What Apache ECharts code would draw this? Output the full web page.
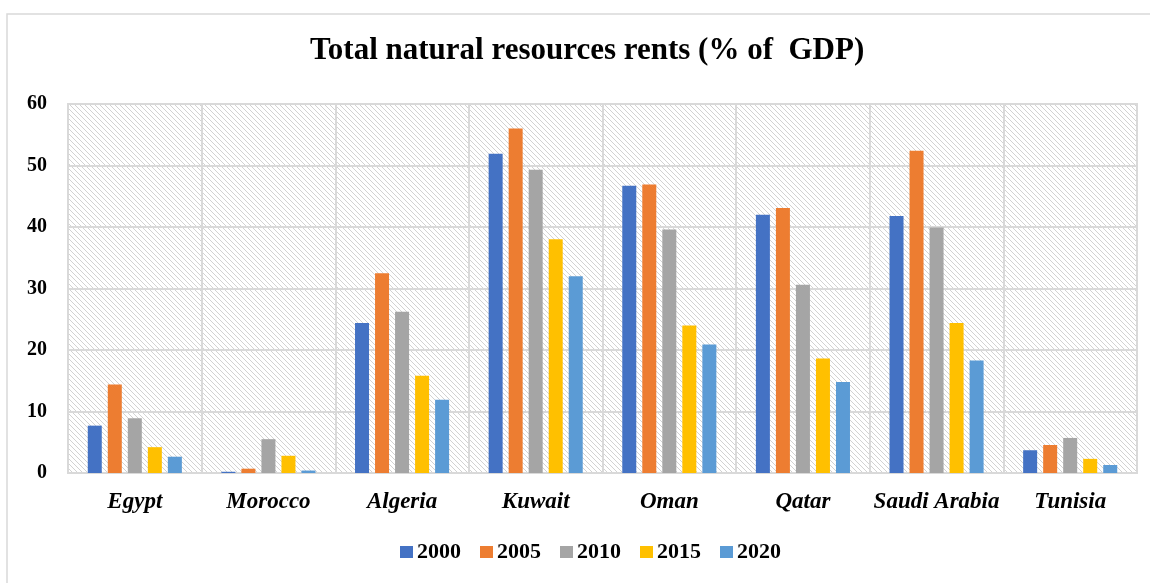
<!DOCTYPE html>
<html>
<head>
<meta charset="utf-8">
<script src="https://cdn.jsdelivr.net/npm/echarts@6/dist/echarts.min.js"></script>
<style>html,body{margin:0;padding:0;background:#fff;}#c{width:1150px;height:583px;}</style>
</head>
<body>
<div id="c"></div>
<script>
const categories = ['Egypt', 'Morocco', 'Algeria', 'Kuwait', 'Oman', 'Qatar', 'Saudi Arabia', 'Tunisia'];
const years = ['2000', '2005', '2010', '2015', '2020'];
const v2000 = [7.7, 0.2, 24.4, 51.9, 46.7, 42.0, 41.8, 3.7];
const v2005 = [14.4, 0.7, 32.5, 56.0, 46.9, 43.1, 52.4, 4.55];
const v2010 = [8.9, 5.5, 26.2, 49.3, 39.6, 30.6, 39.9, 5.7];
const v2015 = [4.2, 2.8, 15.8, 38.0, 24.0, 18.6, 24.4, 2.3];
const v2020 = [2.65, 0.4, 11.9, 32.0, 20.9, 14.8, 18.3, 1.3];
const seriesValues = [v2000, v2005, v2010, v2015, v2020];
const colors = ['#4472C4', '#ED7D31', '#A5A5A5', '#FFC000', '#5B9BD5'];
const yTicks = [0, 10, 20, 30, 40, 50, 60];

// hatch pattern
const tile = document.createElement('canvas');
const n = 5;
tile.width = n; tile.height = n;
const tctx = tile.getContext('2d');
tctx.fillStyle = '#ffffff';
tctx.fillRect(0, 0, n, n);
tctx.fillStyle = '#d2d2d2';
for (let y = 0; y < n; y++) {
  for (let x = 0; x < n; x++) {
    if (((x - y) % n + n) % n === 0) tctx.fillRect(x, y, 1, 1);
  }
}

const serif = '"Liberation Serif", "DejaVu Serif", serif';
const chart = echarts.init(document.getElementById('c'), null, {renderer: 'canvas'});
chart.setOption({
  animation: false,
  backgroundColor: '#ffffff',
  graphic: [{
    type: 'rect', z: -10,
    shape: {x: 7, y: 14, width: 1170, height: 600},
    style: {fill: 'none', stroke: '#d9d9d9', lineWidth: 1.5}
  }],
  title: {
    text: 'Total natural resources rents (% of  GDP)',
    left: 310, top: 35, padding: 0,
    textStyle: {fontFamily: serif, fontWeight: 'bold', fontSize: 31, color: '#000'}
  },
  legend: {
    data: years,
    left: 400, top: 541, padding: 0,
    itemWidth: 13, itemHeight: 12, itemGap: 19,
    icon: 'rect',
    textStyle: {fontFamily: serif, fontWeight: 'bold', fontSize: 22, color: '#000', padding: [0, 0, 0, -1]}
  },
  grid: {
    left: 68, right: 13, top: 104, bottom: 110,
    show: true,
    backgroundColor: {image: tile, repeat: 'repeat'},
    borderColor: '#d9d9d9', borderWidth: 2
  },
  xAxis: {
    type: 'category',
    data: categories,
    axisLine: {show: true, lineStyle: {color: '#d9d9d9', width: 2}},
    axisTick: {show: false},
    splitLine: {show: true, interval: 0, lineStyle: {color: '#d9d9d9', width: 2}},
    axisLabel: {interval: 0, margin: 18, fontFamily: serif, fontWeight: 'bold', fontStyle: 'italic', fontSize: 23, color: '#000'}
  },
  yAxis: {
    type: 'value',
    min: yTicks[0], max: yTicks[yTicks.length - 1], interval: 10,
    axisLine: {show: false},
    axisTick: {show: false},
    splitLine: {show: true, lineStyle: {color: '#d9d9d9', width: 2}},
    axisLabel: {margin: 21, fontFamily: serif, fontWeight: 'bold', fontSize: 20, color: '#000'}
  },
  series: years.map((y, i) => ({
    name: y,
    type: 'bar',
    data: seriesValues[i],
    barWidth: 14,
    barGap: '43%',
    itemStyle: {color: colors[i]}
  }))
});
</script>
</body>
</html>
